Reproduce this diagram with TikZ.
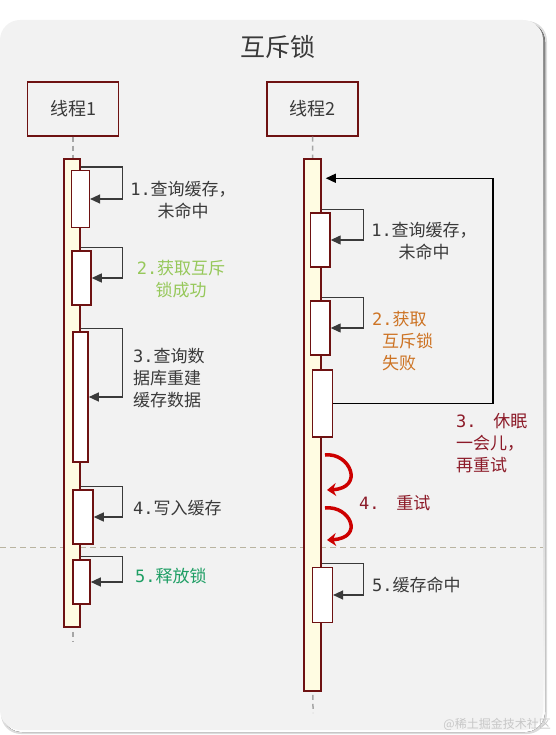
\documentclass[tikz,border=0pt]{standalone}
\usepackage{fontspec}
\setmainfont{Noto Sans CJK SC}
\newfontfamily\digitfont{DejaVu Sans Mono}
\usepackage{tikz}
\usetikzlibrary{arrows.meta}
\definecolor{bgray}{RGB}{242,242,242}
\definecolor{shade}{RGB}{196,196,196}
\definecolor{barred}{RGB}{110,18,18}
\definecolor{baryellow}{RGB}{255,252,226}
\definecolor{txtgray}{RGB}{58,58,58}
\definecolor{okgreen}{RGB}{150,200,90}
\definecolor{relgreen}{RGB}{30,158,100}
\definecolor{failorange}{RGB}{205,115,35}
\definecolor{sleepred}{RGB}{140,26,40}
\definecolor{retryred}{RGB}{205,0,0}
\definecolor{seplne}{RGB}{185,180,160}
\newcommand{\stepno}[1]{{\digitfont #1}}

\begin{document}
\begin{tikzpicture}[x=1pt,y=-1pt,
  hdr/.style={draw=barred,line width=1.5pt,fill=bgray,minimum width=91pt,minimum height=54pt,font=\fontsize{18}{22}\selectfont,text=txtgray},
  bar/.style={draw=barred,line width=1.5pt,fill=baryellow,inner sep=0pt},
  act/.style={draw=barred,line width=1.5pt,fill=white,inner sep=0pt},
  note/.style={inner sep=0pt,font=\fontsize{17}{22}\selectfont,text=txtgray},
  lifeline/.style={draw=black!35,line width=1.5pt,dash pattern=on 5pt off 4pt},
  selfcall/.style={draw=txtgray,line width=1.3pt,-{Triangle[length=10pt,width=9pt]}},
  retryline/.style={draw=black,line width=1.2pt,-{Triangle[length=10pt,width=9pt]}},
  curl/.style={draw=retryred,line width=3.5pt,-{Stealth[length=9pt,width=13pt]}}]
\useasboundingbox (0,0) rectangle (555,735);
% card
\fill[shade!60,rounded corners=20pt] (1,21) rectangle (547,734);
\fill[shade,rounded corners=20pt] (2,22) rectangle (545,732);
\fill[bgray,rounded corners=20pt] (0,20) rectangle (543,730);
\node[font=\fontsize{25}{30}\selectfont,text=txtgray] (title) at (278,47) {互斥锁};
\node[font=\fontsize{12}{14}\selectfont,text=black!22,anchor=east,inner sep=0pt] (mark) at (551,724) {@稀土掘金技术社区};

% threads
\node[hdr] (h1) at (73,109) {线程1};
\node[hdr] (h2) at (312.5,109) {线程2};
\coordinate (end1) at (73,641);
\coordinate (end2) at (313,713);
\draw[lifeline] (h1.south) -- (end1);
\draw[lifeline] (h2.south) -- (end2);
\draw[seplne,line width=1pt,dash pattern=on 6pt off 4pt] (0,547) -- (543,547);

\node[bar,minimum width=16pt,minimum height=468pt] (bar1) at (72,393) {};
\node[bar,minimum width=17pt,minimum height=532pt] (bar2) at (312.5,425) {};

% thread 1
\node[act,minimum width=17.6pt,minimum height=56.6pt] (a1) at (80.5,199) {};
\node[act,minimum width=19pt,minimum height=54pt] (a2) at (81.5,278) {};
\node[act,minimum width=15.3pt,minimum height=130pt] (a3) at (80.4,397) {};
\node[act,minimum width=20pt,minimum height=54pt] (a4) at (83,517) {};
\node[act,minimum width=17.3pt,minimum height=44pt] (a5) at (81.4,582) {};
\foreach \b in {a1,a2,a3,a4,a5}
  \draw[selfcall] ([yshift=3pt]\b.north -| bar1.east) -- ++(42,0) |- (\b.east);
\node[note,align=center] (n1) at (183,200) {\stepno{1.}查询缓存，\\未命中};
\node[note,align=center,text=okgreen] (n2) at (181,279) {\stepno{2.}获取互斥\\锁成功};
\node[note,align=left,anchor=west] (n3) at (133,378) {\stepno{3.}查询数\\据库重建\\缓存数据};
\node[note,anchor=west] (n4) at (133,508) {\stepno{4.}写入缓存};
\node[note,anchor=west,text=relgreen] (n5) at (135,576) {\stepno{5.}释放锁};

% thread 2
\node[act,minimum width=19.3pt,minimum height=54pt] (c1) at (320.3,240) {};
\node[act,minimum width=19.3pt,minimum height=54pt] (c2) at (320.3,328) {};
\node[act,minimum width=20pt,minimum height=67pt] (c3) at (322.3,403.5) {};
\node[act,minimum width=20pt,minimum height=55pt] (c5) at (322.3,595) {};
\foreach \b in {c1,c2,c5}
  \draw[selfcall] ([yshift=3pt]\b.north -| bar2.east) -- ++(42,0) |- (\b.east);
\coordinate (wake) at ([shift={(4pt,-20pt)}]bar2.north east);
\draw[retryline] (c3.east) -- ++(160,0) |- (wake);
\coordinate (r1) at (325,455);
\coordinate (r1e) at (327,490);
\coordinate (r2) at (325,508);
\coordinate (r2e) at (327,540);
\draw[curl] (r1) .. controls (350,452) and (365,488) .. (r1e);
\draw[curl] (r2) .. controls (350,505) and (365,538) .. (r2e);

\node[note,align=center] (m1) at (424,241) {\stepno{1.}查询缓存，\\未命中};
\node[note,align=left,anchor=west,text=failorange] (m2) at (372,341) {\stepno{2.}获取\\\hspace*{10pt}互斥锁\\\hspace*{10pt}失败};
\node[note,align=left,anchor=west,text=sleepred] (m3) at (456,443) {\stepno{3. }\hspace{3pt}休眠\\一会儿，\\再重试};
\node[note,anchor=west,text=sleepred] (m4) at (359,503) {\stepno{4. }\hspace{3pt}重试};
\node[note,anchor=west] (m5) at (372,585) {\stepno{5.}缓存命中};
\end{tikzpicture}
\end{document}
